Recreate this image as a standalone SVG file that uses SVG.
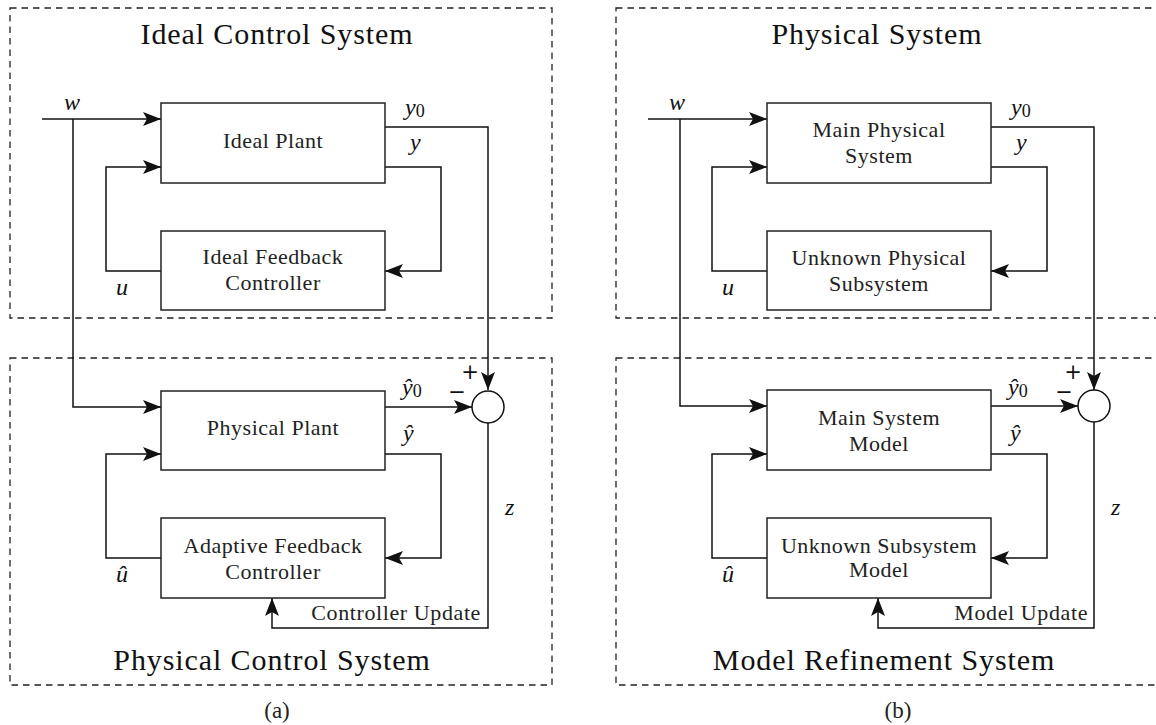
<svg xmlns="http://www.w3.org/2000/svg" width="1156" height="725" viewBox="0 0 1156 725">
<style>
.frame{fill:none;stroke:#222;stroke-width:1.3;stroke-dasharray:6.5 5}
.box{fill:#fff;stroke:#222;stroke-width:1.5}
.wire{fill:none;stroke:#111;stroke-width:1.5}
.arr{marker-end:url(#ah)}
.t{font-family:"Liberation Serif",serif;font-size:22px;letter-spacing:0.5px;fill:#222;text-anchor:middle}
.title{font-family:"Liberation Serif",serif;font-size:30px;letter-spacing:0.9px;fill:#111;text-anchor:middle}
.m{font-family:"Liberation Serif",serif;font-style:italic;font-size:24px;fill:#111}
.s{font-style:normal;font-size:18px}
.sign{font-family:"DejaVu Sans",sans-serif;font-size:21px;fill:#111;text-anchor:middle}
</style>
<defs>
<marker id="ah" markerUnits="userSpaceOnUse" viewBox="0 0 18 14" markerWidth="18" markerHeight="14" refX="18" refY="7" orient="auto">
<path d="M0,0 L18,7 L0,14 L4,7 Z" fill="#111"/>
</marker>
</defs>
<rect width="1156" height="725" fill="#fff"/>

<g id="frames">
<rect class="frame" x="10" y="8" width="542" height="310"/>
<rect class="frame" x="10" y="358" width="542" height="327"/>
<rect class="frame" x="616" y="8" width="560" height="310"/>
<rect class="frame" x="616" y="358" width="560" height="327"/>
</g>

<g id="connectors">
<path class="wire arr" d="M42,119 H161"/>
<path class="wire arr" d="M73,119 V407 H161"/>
<path class="wire arr" d="M161,271 H106 V167 H161"/>
<path class="wire arr" d="M385,167 H441 V271 H385"/>
<path class="wire arr" d="M385,127 H488 V390"/>
<path class="wire arr" d="M385,407 H472"/>
<path class="wire arr" d="M385,454 H441 V558 H385"/>
<path class="wire arr" d="M161,558 H106 V454 H161"/>
<path class="wire arr" d="M488,423 V628 H272 V598"/>

<path class="wire arr" d="M648,119 H767"/>
<path class="wire arr" d="M680,119 V406 H767"/>
<path class="wire arr" d="M767,271 H712 V167 H767"/>
<path class="wire arr" d="M991,167 H1047 V271 H991"/>
<path class="wire arr" d="M991,127 H1094 V390"/>
<path class="wire arr" d="M991,406 H1078"/>
<path class="wire arr" d="M991,454 H1047 V558 H991"/>
<path class="wire arr" d="M767,558 H712 V454 H767"/>
<path class="wire arr" d="M1094,422 V628 H878 V598"/>
</g>

<g id="ideal-plant"><rect class="box" x="161" y="103" width="224" height="80"/><text class="t" x="273" y="148">Ideal Plant</text></g>
<g id="ideal-controller"><rect class="box" x="161" y="231" width="224" height="79"/><text class="t" x="273" y="264">Ideal Feedback</text><text class="t" x="273" y="290">Controller</text></g>
<g id="physical-plant"><rect class="box" x="161" y="391" width="224" height="79"/><text class="t" x="273" y="435">Physical Plant</text></g>
<g id="adaptive-controller"><rect class="box" x="161" y="518" width="224" height="80"/><text class="t" x="273" y="553">Adaptive Feedback</text><text class="t" x="273" y="579">Controller</text></g>
<g id="sum-a"><circle cx="488" cy="407" r="16" fill="#fff" stroke="#111" stroke-width="1.5"/></g>

<g id="main-physical"><rect class="box" x="767" y="103" width="224" height="80"/><text class="t" x="879" y="137">Main Physical</text><text class="t" x="879" y="163">System</text></g>
<g id="unknown-physical"><rect class="box" x="767" y="231" width="224" height="79"/><text class="t" x="879" y="265">Unknown Physical</text><text class="t" x="879" y="291">Subsystem</text></g>
<g id="main-model"><rect class="box" x="767" y="390" width="224" height="80"/><text class="t" x="879" y="425">Main System</text><text class="t" x="879" y="451">Model</text></g>
<g id="unknown-model"><rect class="box" x="767" y="518" width="224" height="80"/><text class="t" x="879" y="553">Unknown Subsystem</text><text class="t" x="879" y="577">Model</text></g>
<g id="sum-b"><circle cx="1094" cy="406" r="16" fill="#fff" stroke="#111" stroke-width="1.5"/></g>

<g id="labels">
<text class="title" x="277" y="44">Ideal Control System</text>
<text class="title" x="272" y="670">Physical Control System</text>
<text class="t" x="277" y="718" style="font-size:23px;letter-spacing:0">(a)</text>
<text class="title" x="877" y="44">Physical System</text>
<text class="title" x="884" y="670">Model Refinement System</text>
<text class="t" x="898" y="718" style="font-size:23px;letter-spacing:0">(b)</text>

<text class="m" x="64" y="110">w</text>
<text class="m" x="405" y="115">y<tspan class="s" dy="2">0</tspan></text>
<text class="m" x="410" y="150">y</text>
<text class="m" x="116" y="295">u</text>
<text class="m" x="402" y="395">ŷ<tspan class="s" dy="2">0</tspan></text>
<text class="m" x="403" y="441">ŷ</text>
<text class="m" x="116" y="582">û</text>
<text class="m" x="505" y="515">z</text>
<text class="sign" x="470" y="379">+</text>
<text class="sign" x="457" y="399">−</text>
<text class="t" x="481" y="620" style="text-anchor:end;letter-spacing:0.6px">Controller Update</text>

<text class="m" x="669" y="110">w</text>
<text class="m" x="1011" y="115">y<tspan class="s" dy="2">0</tspan></text>
<text class="m" x="1016" y="150">y</text>
<text class="m" x="722" y="295">u</text>
<text class="m" x="1008" y="395">ŷ<tspan class="s" dy="2">0</tspan></text>
<text class="m" x="1010" y="441">ŷ</text>
<text class="m" x="722" y="582">û</text>
<text class="m" x="1111" y="515">z</text>
<text class="sign" x="1073" y="379">+</text>
<text class="sign" x="1064" y="399">−</text>
<text class="t" x="1088" y="620" style="text-anchor:end;letter-spacing:0.6px">Model Update</text>
</g>
</svg>
